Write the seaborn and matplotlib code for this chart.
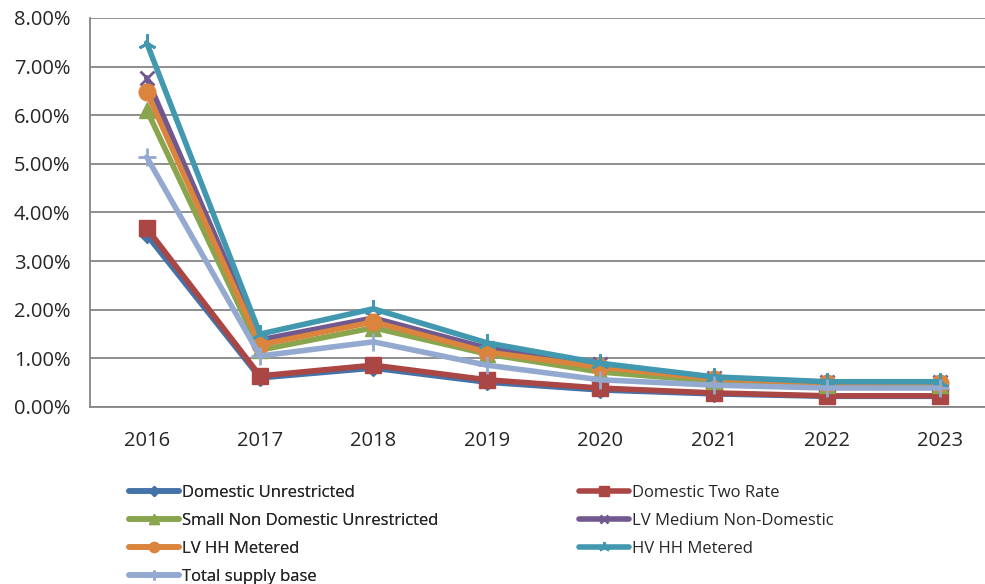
import matplotlib
matplotlib.use("Agg")
import matplotlib.pyplot as plt
import seaborn as sns
import numpy as np
import pandas as pd

years = ["2016", "2017", "2018", "2019", "2020", "2021", "2022", "2023"]
domestic_unrestricted = [3.54, 0.60, 0.80, 0.51, 0.35, 0.27, 0.22, 0.22]
domestic_two_rate = [3.68, 0.64, 0.86, 0.56, 0.39, 0.29, 0.23, 0.23]
small_non_domestic = [6.11, 1.17, 1.63, 1.09, 0.72, 0.53, 0.45, 0.45]
lv_medium = [6.77, 1.38, 1.83, 1.21, 0.88, 0.60, 0.51, 0.51]
lv_hh = [6.48, 1.28, 1.75, 1.13, 0.82, 0.58, 0.49, 0.50]
hv_hh = [7.49, 1.50, 2.02, 1.32, 0.90, 0.62, 0.52, 0.52]
total_supply = [5.14, 1.05, 1.34, 0.86, 0.56, 0.45, 0.39, 0.39]

series = [
    ("Domestic Unrestricted", domestic_unrestricted, "#4572A7", "D", 8),
    ("Domestic Two Rate", domestic_two_rate, "#AA4643", "s", 12),
    ("Small Non Domestic Unrestricted", small_non_domestic, "#89A54E", "^", 12),
    ("LV Medium Non-Domestic", lv_medium, "#71588F", "x", 10),
    ("LV HH Metered", lv_hh, "#DB843D", "o", 12),
    ("HV HH Metered", hv_hh, "#4198AF", (3, 2, 0), 13),
    ("Total supply base", total_supply, "#93A9CF", "+", 13),
]

sns.set_style("white")
plt.rcParams["font.family"] = ["Open Sans", "DejaVu Sans"]

fig = plt.figure(figsize=(9.85, 5.84), dpi=100)
ax = fig.add_axes([90 / 985, 1 - 407 / 584, 907 / 985, (407 - 18) / 584])

xpos = np.arange(len(years))
for name, vals, col, mk, ms in series:
    df = pd.DataFrame({"x": xpos, "y": vals})
    sns.lineplot(data=df, x="x", y="y", ax=ax, color=col, linewidth=4,
                 marker=mk, markersize=ms, markeredgecolor=col,
                 markeredgewidth=2 if mk in ("x", "+", (3, 2, 0)) else 1,
                 label=name, sort=False, clip_on=False)

ax.set_xlim(-0.5, 7.5)
ax.set_ylim(0, 8)
ax.set_yticks(np.arange(0, 9, 1))
ax.set_yticklabels([f"{v:.2f}%" for v in range(9)])
ax.set_xticks(np.arange(-0.5, 8, 1))
ax.set_xticklabels([])
ax.set_xticks(xpos, minor=True)
ax.set_xticklabels(years, minor=True)
ax.tick_params(axis="x", which="major", length=6, width=1.2, color="#868686", direction="out")
ax.tick_params(axis="x", which="minor", length=0, pad=17, labelsize=14.5)
ax.tick_params(axis="y", length=7, width=1.2, color="#868686", direction="out", labelsize=14.5, pad=7)
ax.grid(axis="y", color="#868686", linewidth=1.3)
ax.grid(axis="x", visible=False)
ax.set_axisbelow(True)
for s in ["top", "right"]:
    ax.spines[s].set_visible(False)
for s in ["left", "bottom"]:
    ax.spines[s].set_color("#868686")
    ax.spines[s].set_linewidth(1.3)
ax.set_xlabel("")
ax.set_ylabel("")

h, l = ax.get_legend_handles_labels()
ax.get_legend().remove()
common = dict(loc="upper left", frameon=False, fontsize=12, handlelength=3.0,
              handletextpad=0.15, labelspacing=0.72, markerscale=0.6,
              borderaxespad=0, borderpad=0)
col1 = [0, 2, 4, 6]
col2 = [1, 3, 5]
leg1 = fig.legend([h[i] for i in col1], [l[i] for i in col1],
                  bbox_to_anchor=(129 / 985, 1 - 485 / 584), **common)
fig.add_artist(leg1)
leg2 = fig.legend([h[i] for i in col2], [l[i] for i in col2],
                  bbox_to_anchor=(579 / 985, 1 - 485 / 584), **common)

fig.savefig("out.png", dpi=100)
